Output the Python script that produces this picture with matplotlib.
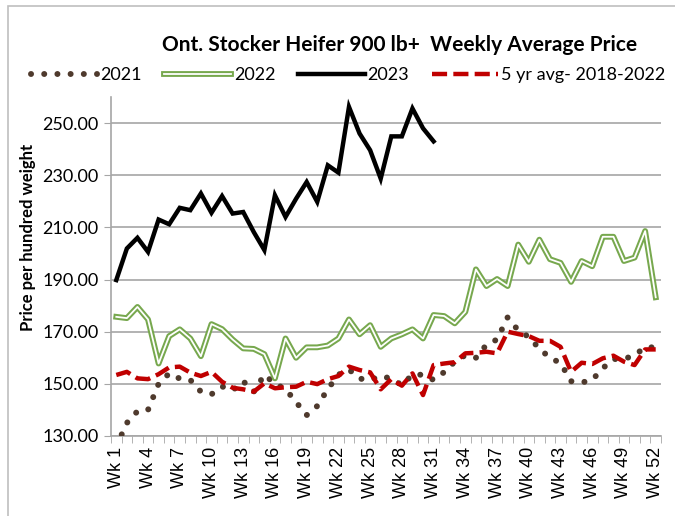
import numpy as np
import matplotlib
matplotlib.use('Agg')
import matplotlib.pyplot as plt
import matplotlib.patheffects as pe
from matplotlib.patches import Rectangle

# data ------------------------------------------------------------------

weeks = np.arange(1, 53)
week_labels = ['Wk %d' % w for w in weeks]

y2021 = [126, 135, 139.5, 140, 150, 154, 152, 151.5, 147, 146,
         149, 147.5, 151, 147, 153.5, 150, 148, 143, 138, 141.5,
         148, 153.5, 155.5, 152, 151.5, 153, 152, 149.5, 153.5, 153.5,
         151.5, 154.5, 158.5, 161, 160, 165, 167, 175.5, 170.5, 168,
         163.5, 160, 158, 151, 150.5, 151.5, 156, 159.5, 159.5, 161,
         164, 164]

y2022 = [175.7, 175.2, 179.5, 174.7, 157.8, 168.3, 170.9, 167.4, 160.6, 172.9,
         171, 167, 163.6, 163.4, 161.4, 152.1, 167.4, 160, 164, 164,
         164.7, 167.4, 174.7, 169, 172.5, 164.2, 167.4, 169, 170.9, 167.4,
         176.4, 176, 173.2, 177.6, 193.9, 187.5, 190.2, 187.5, 203.4, 196.8,
         205.3, 197.8, 196.4, 189.1, 197.1, 195.1, 206.4, 206.4, 197.1, 198.4,
         208.6, 183.2]

y2023 = [189.8, 201.9, 206, 200.6, 213, 211.2, 217.5, 216.6, 223, 215.6,
         222, 215.3, 215.9, 208.2, 201.3, 222.3, 214, 221, 227.4, 219.8,
         233.8, 231, 256.2, 246, 239.6, 228.7, 244.9, 244.9, 255.6, 248,
         243]

avg5 = [153.4, 154.6, 152.1, 151.8, 153.7, 156.3, 156.6, 154.3, 153, 154.6,
        150.8, 148.5, 147.9, 147, 150.2, 148.3, 148.7, 148.9, 150.8, 149.9,
        151.8, 153, 156.6, 155.3, 154.4, 147.9, 151.8, 149.3, 154, 145.7,
        157.2, 157.8, 158.3, 161.7, 161.9, 162.3, 161.7, 170, 169.1, 168.3,
        166.5, 166.5, 164.2, 154.6, 158.1, 157.6, 159.8, 160.8, 158.5, 157.2,
        163.2, 163.2]

# plot ------------------------------------------------------------------

GRID = '#A6A6A6'
plt.rcParams['font.family'] = ['Lato', 'DejaVu Sans']

fig = plt.figure(figsize=(6.75, 5.16), dpi=100)
ax = fig.add_axes([111 / 675, 1 - 436 / 516, 550 / 675, 339 / 516])

ax.plot(weeks, y2021, color='#4F3A2D', lw=4.3, linestyle=(0, (0.01, 2.2)),
        dash_capstyle='round', label='2021', zorder=3)
ax.plot(weeks, y2022, color='white', lw=1.3, label='2022', zorder=4,
        path_effects=[pe.Stroke(linewidth=4.2, foreground='#77A84E'), pe.Normal()])
ax.plot(weeks[:len(y2023)], y2023, color='black', lw=3.2, label='2023', zorder=5,
        solid_joinstyle='miter')
ax.plot(weeks, avg5, color='#C00000', lw=3.2, linestyle=(0, (3.4, 1.4)),
        label='5 yr avg- 2018-2022', zorder=4)

ax.set_xlim(0.5, 52.5)
ax.set_ylim(130, 260)
ax.set_yticks(np.arange(130, 251, 20))
ax.set_yticklabels(['%.2f' % v for v in np.arange(130, 251, 20)], fontsize=13)
ax.yaxis.grid(True, color=GRID, lw=1.2)
ax.set_axisbelow(True)

ax.set_xticks(weeks[::3])
ax.set_xticklabels(week_labels[::3], rotation=90, fontsize=13,
                   family='Liberation Sans')
ax.set_xticks(np.arange(0.5, 53, 1), minor=True)
ax.tick_params(axis='x', which='major', length=0, pad=8)
ax.tick_params(axis='x', which='minor', length=5, color=GRID, direction='out')
ax.tick_params(axis='y', length=5, color=GRID, pad=4)

for s in ['top', 'right']:
    ax.spines[s].set_visible(False)
for s in ['left', 'bottom']:
    ax.spines[s].set_color(GRID)
    ax.spines[s].set_linewidth(1.2)

ax.set_ylabel('Price per hundred weight', fontsize=12, fontweight='bold')
ax.yaxis.set_label_coords(-0.136, 0.587)

fig.text(400 / 675, 1 - 45 / 516, 'Ont. Stocker Heifer 900 lb+  Weekly Average Price',
         ha='center', va='center', fontsize=15, fontweight='bold')

fig.legend(loc='center', bbox_to_anchor=(348 / 675, 1 - 75 / 516), ncol=4,
           frameon=False, fontsize=13, handlelength=3.7, handletextpad=0.15,
           columnspacing=1.25, borderaxespad=0)

# outer chart border
fig.add_artist(Rectangle((8 / 675, -0.1), 1.2, 1.1 - 6 / 516,
                         transform=fig.transFigure, fill=False,
                         edgecolor='#BFBFBF', lw=1.2))

fig.savefig('out.png', dpi=100)
